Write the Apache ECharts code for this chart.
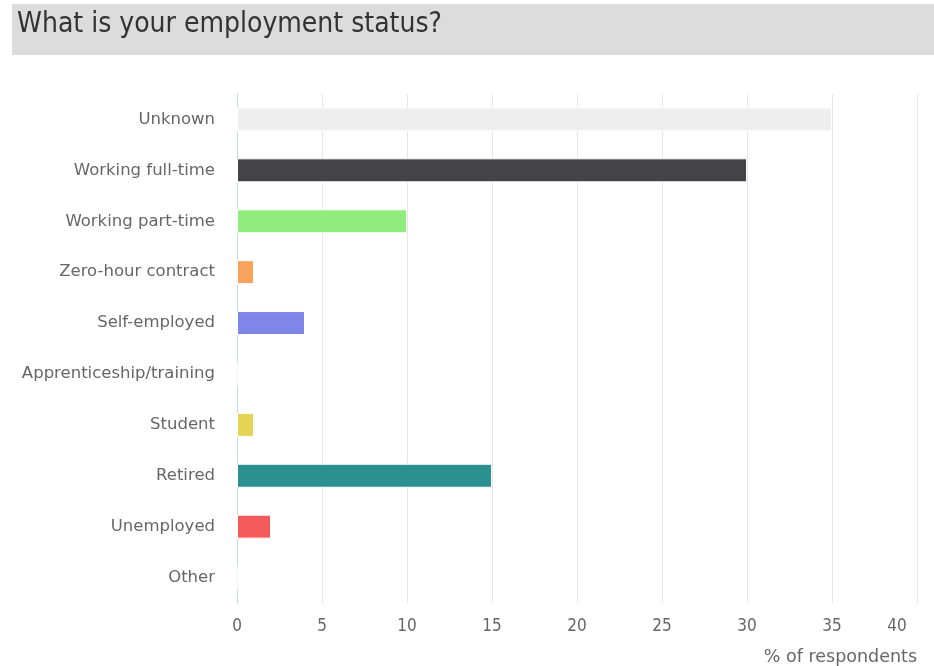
<!DOCTYPE html>
<html><head><meta charset="utf-8">
<script src="https://cdn.jsdelivr.net/npm/echarts@6/dist/echarts.min.js"></script>
<style>html,body{margin:0;padding:0;background:#fff}#c{width:934px;height:666px}</style>
</head><body><div id="c"></div>
<script>
const titleText = "What is your employment status?";
const categories = ["Unknown","Working full-time","Working part-time","Zero-hour contract","Self-employed","Apprenticeship/training","Student","Retired","Unemployed","Other"];
const values = [35, 30, 10, 1, 4, 0, 1, 15, 2, 0];
const colors = ["#eeeeee","#434348","#90ed7d","#f7a35c","#8085e9","#f15c80","#e4d354","#2b908f","#f45b5b","#91e8e1"];
const xTicks = [0,5,10,15,20,25,30,35,40];
const xAxisName = "% of respondents";
const xMax = xTicks[xTicks.length-1];

const chart = echarts.init(document.getElementById('c'), null, {renderer:'canvas'});
chart.setOption({
  animation:false,
  graphic:[
    {type:'rect', left:12, top:4, shape:{width:922, height:51}, style:{fill:'#dcdcdc'}, z:0},
    {type:'text', left:17, top:11, style:{text:titleText, font:'28px "Liberation Sans Narrow", "DejaVu Sans Condensed", sans-serif', fill:'#333333'}, z:1}
  ],
  grid:{left:237, right:17, top:94, bottom:62, containLabel:false},
  xAxis:{
    type:'value', min:xTicks[0], max:xMax, interval:5,
    name:xAxisName, nameLocation:'end', nameGap:0,
    nameTextStyle:{align:'right', verticalAlign:'top', padding:[45,0,0,0], color:'#666', fontSize:17.5, fontFamily:'"DejaVu Sans", sans-serif'},
    axisLine:{show:false}, axisTick:{show:false},
    axisLabel:{color:'#666', fontSize:17, margin:15, fontFamily:'"DejaVu Sans Condensed", sans-serif',
      formatter:(v)=> v===xMax ? '{last|'+v+'}' : String(v),
      rich:{last:{color:'#666', fontSize:17, fontFamily:'"DejaVu Sans Condensed", sans-serif', padding:[0,40,0,0]}}},
    splitLine:{show:true, lineStyle:{color:'#e6e6e6', width:1}}
  },
  yAxis:{
    type:'category', data:categories, inverse:true,
    axisLine:{show:true, lineStyle:{color:'#ccd6eb'}}, axisTick:{show:false},
    axisLabel:{color:'#666', fontSize:16.5, margin:22, fontFamily:'"DejaVu Sans", sans-serif'},
    splitLine:{show:false}
  },
  series:[{
    type:'bar', barWidth:24,
    data: values.map((v,i)=>({value:v, itemStyle:{color:colors[i]}})),
    itemStyle:{borderColor:'#ffffff', borderWidth:1}
  }]
});
</script></body></html>
